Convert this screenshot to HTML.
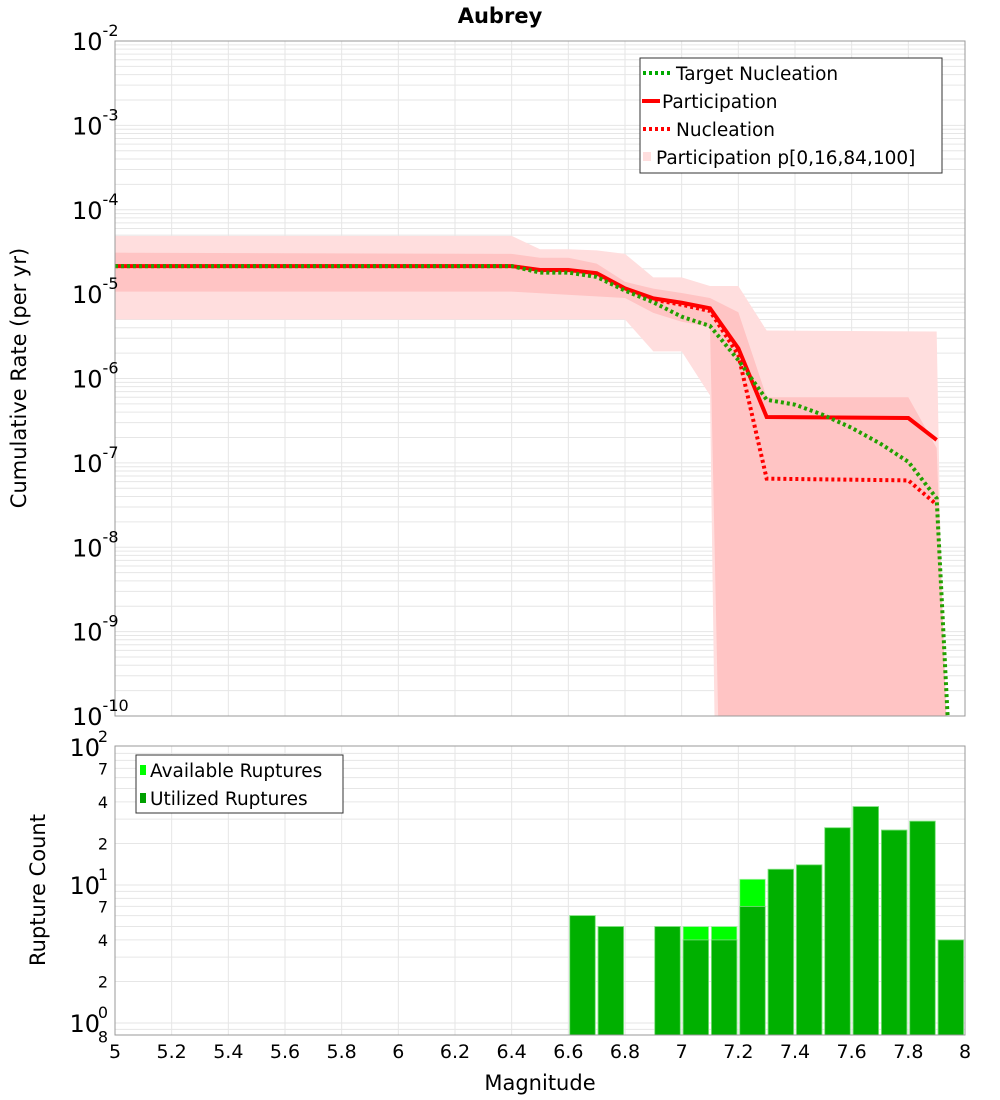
<!DOCTYPE html>
<html><head><meta charset="utf-8"><style>
body{margin:0;background:#fff;width:1000px;height:1100px;overflow:hidden}
svg{font-family:"DejaVu Sans","Liberation Sans",sans-serif;display:block}
</style></head><body>
<svg id="c" width="1000" height="1100" xmlns="http://www.w3.org/2000/svg"></svg>
<script>
// ---- data ----
const partX = [5,6.4,6.5,6.6,6.7,6.8,6.9,7.0,7.1,7.2,7.3,7.8,7.9];
const partY = [2.15e-5,2.15e-5,1.93e-5,1.93e-5,1.77e-5,1.17e-5,8.9e-6,7.9e-6,6.8e-6,2.28e-6,3.5e-7,3.4e-7,1.87e-7];
const nuclX = [5,6.4,6.5,6.6,6.7,6.8,6.9,7.0,7.1,7.2,7.3,7.8,7.9];
const nuclY = [2.15e-5,2.15e-5,1.9e-5,1.9e-5,1.7e-5,1.15e-5,8.6e-6,7.5e-6,6.3e-6,1.9e-6,6.5e-8,6.2e-8,3.2e-8];
const targX = [5,6.4,6.5,6.6,6.7,6.8,6.9,7.0,7.1,7.2,7.3,7.4,7.5,7.6,7.7,7.8,7.9,7.94];
const targY = [2.15e-5,2.15e-5,1.8e-5,1.8e-5,1.6e-5,1.1e-5,8e-6,5.4e-6,4.2e-6,1.65e-6,5.6e-7,4.9e-7,3.7e-7,2.6e-7,1.7e-7,1.03e-7,3.8e-8,8e-11];
const outerUpX = [5,6.4,6.5,6.6,6.7,6.8,6.9,7.0,7.1,7.2,7.3,7.9,7.93];
const outerUpY = [4.9e-5,4.9e-5,3.4e-5,3.4e-5,3.3e-5,3.0e-5,1.58e-5,1.58e-5,1.25e-5,1.25e-5,3.7e-6,3.6e-6,1e-11];
const outerLoX = [5,6.4,6.8,6.9,7.0,7.1,7.12];
const outerLoY = [5e-6,5e-6,5e-6,2.1e-6,2.1e-6,6.3e-7,1e-11];
const innerUpX = [5,6.4,6.5,6.6,6.7,6.8,6.9,7.0,7.1,7.2,7.3,7.8,7.9,7.945];
const innerUpY = [3.1e-5,3.0e-5,2.7e-5,2.7e-5,2.3e-5,1.4e-5,1.16e-5,1.03e-5,9e-6,6.1e-6,6e-7,6e-7,1.5e-7,1e-11];
const innerLoX = [5,6.4,6.8,6.9,7.0,7.1,7.135];
const innerLoY = [1.07e-5,1.07e-5,9e-6,6e-6,4.7e-6,4.1e-6,1e-11];
const binCenters = [6.65,6.75,6.95,7.05,7.15,7.25,7.35,7.45,7.55,7.65,7.75,7.85,7.95];
const availCounts = [6,5,5,5,5,11,13,14,26,37,25,29,4];
const usedCounts  = [6,5,5,4,4,7,13,14,26,37,25,29,4];
const xTicks = [5,5.2,5.4,5.6,5.8,6,6.2,6.4,6.6,6.8,7,7.2,7.4,7.6,7.8,8];
const xTickLabels = ["5","5.2","5.4","5.6","5.8","6","6.2","6.4","6.6","6.8","7","7.2","7.4","7.6","7.8","8"];
const topExps = [-2,-3,-4,-5,-6,-7,-8,-9,-10];
const botMinor = [70,40,20,7,4,2,0.8];
const botMinorLabels = ["7","4","2","7","4","2","8"];

// ---- axes ----
const NS="http://www.w3.org/2000/svg", svg=document.getElementById('c');
const L=115,R=965,T1=41,B1=716,T2=746,B2=1035;
const xs=m=>L+(m-5)/3*(R-L);
const y1=v=>T1+(-2-Math.log10(v))*(B1-T1)/8;
const y2=v=>747+(2-Math.log10(v))*138;
function el(tag,attrs,parent){const e=document.createElementNS(NS,tag);for(const k in attrs)e.setAttribute(k,attrs[k]);(parent||svg).appendChild(e);return e;}
const defs=el('defs',{});
const c1=el('clipPath',{id:'cp1'},defs);el('rect',{x:L,y:T1,width:R-L,height:B1-T1},c1);
const c2=el('clipPath',{id:'cp2'},defs);el('rect',{x:L,y:T2,width:R-L,height:B2-T2},c2);

const g1=el('g',{'clip-path':'url(#cp1)'});

for(let e=-10;e<-2;e++)for(let k=1;k<10;k++){const y=y1(k*Math.pow(10,e));el('line',{x1:L,x2:R,y1:y,y2:y,stroke:'#e6e6e6','stroke-width':1},g1);}
xTicks.forEach(t=>el('line',{x1:xs(t),x2:xs(t),y1:T1,y2:B1,stroke:'#e6e6e6'},g1));
const g2=el('g',{'clip-path':'url(#cp2)'});

for(let e=-1;e<2;e++)for(let k=1;k<10;k++){const y=y2(k*Math.pow(10,e));el('line',{x1:L,x2:R,y1:y,y2:y,stroke:'#e6e6e6'},g2);}
xTicks.forEach(t=>el('line',{x1:xs(t),x2:xs(t),y1:T2,y2:B2,stroke:'#e6e6e6'},g2));

function band(upX,upY,loX,loY,fill,name){
  let pts=upX.map((x,i)=>xs(x)+','+y1(upY[i]));
  for(let i=loX.length-1;i>=0;i--)pts.push(xs(loX[i])+','+y1(loY[i]));
  const p=el('polygon',{points:pts.join(' '),fill:fill,'clip-path':'url(#cp1)'});
  
}
band(outerUpX,outerUpY,outerLoX,outerLoY,'#ffdede','band-p0-p100');
band(innerUpX,innerUpY,innerLoX,innerLoY,'#ffc4c4','band-p16-p84');
function line(X,Y,stroke,dash,name){
  const p=el('polyline',{points:X.map((x,i)=>xs(x)+','+y1(Y[i])).join(' '),fill:'none',stroke:stroke,'stroke-width':4,'clip-path':'url(#cp1)'});
  if(dash)p.setAttribute('stroke-dasharray',dash);
  
}
line(partX,partY,'#ff0000',null,'participation-line');
line(nuclX,nuclY,'#ff0000','3,3','nucleation-line');
line(targX,targY,'#22a000','3,3','target-nucleation-line');

binCenters.forEach((c,i)=>{
  const x0=xs(c-0.045),w=xs(c+0.045)-x0;
  const a=el('rect',{x:x0,y:y2(availCounts[i]),width:w,height:B2-y2(availCounts[i]),fill:'#00ff00',stroke:'#a0f0a0','stroke-width':0.8,'clip-path':'url(#cp2)'});
  
  const u=el('rect',{x:x0,y:y2(usedCounts[i]),width:w,height:B2-y2(usedCounts[i]),fill:'#00b000',stroke:'#80e080','stroke-width':0.8,'clip-path':'url(#cp2)'});
  
});

const f1=el('rect',{x:L,y:T1,width:R-L,height:B1-T1,fill:'none',stroke:'#999'});

const f2=el('rect',{x:L,y:T2,width:R-L,height:B2-T2,fill:'none',stroke:'#999'});


function text(x,y,s,attrs,name){const t=el('text',Object.assign({x:x,y:y},attrs));t.textContent=s;return t;}
topExps.forEach(e=>{
  const y=y1(Math.pow(10,e));
  const t=el('text',{x:72,y:y+9,'font-size':24,fill:'#000'});
  
  const a=el('tspan',{},t);a.textContent='10';
  const b=el('tspan',{dy:-14,'font-size':16},t);b.textContent=String(e);
});
[2,1,0].forEach(e=>{
  const y=y2(Math.pow(10,e));
  const t=el('text',{x:100,y:y+9,'text-anchor':'end','font-size':24});
  
  const a=el('tspan',{},t);a.textContent='10';
  const b=el('tspan',{x:108,dy:-14,'font-size':16},t);b.textContent=String(e);
});
botMinor.forEach((v,i)=>text(108,y2(v)+6,botMinorLabels[i],{'text-anchor':'end','font-size':16},'count-minor-label'));
xTicks.forEach((t,i)=>text(xs(t),1058,xTickLabels[i],{'text-anchor':'middle','font-size':19},'x-tick-label'));
text(500,23,'Aubrey',{'text-anchor':'middle','font-size':21,'font-weight':'bold'},'chart-title');
text(540,1090,'Magnitude',{'text-anchor':'middle','font-size':21},'x-axis-title');
text(0,0,'Cumulative Rate (per yr)',{'text-anchor':'middle','font-size':21,transform:'translate(26,378) rotate(-90)'},'y-axis-title');
text(0,0,'Rupture Count',{'text-anchor':'middle','font-size':21,transform:'translate(45,890) rotate(-90)'},'count-axis-title');

const lg=el('g',{});
el('rect',{x:640,y:58,width:302,height:115,fill:'#fff',stroke:'#333'},lg);
el('line',{x1:643,x2:670,y1:73,y2:73,stroke:'#00aa00','stroke-width':4,'stroke-dasharray':'3,3'},lg);
el('line',{x1:642,x2:660,y1:101,y2:101,stroke:'#ff0000','stroke-width':4},lg);
el('line',{x1:643,x2:670,y1:129,y2:129,stroke:'#ff0000','stroke-width':4,'stroke-dasharray':'3,3'},lg);
el('rect',{x:643,y:152,width:8,height:9,fill:'#ffdede'},lg);
text(676,80,'Target Nucleation',{'font-size':18.5},'legend-target-nucleation');
text(662,108,'Participation',{'font-size':18.5},'legend-participation');
text(676,136,'Nucleation',{'font-size':18.5},'legend-nucleation');
text(656,164,'Participation p[0,16,84,100]',{'font-size':18.5},'legend-participation-band');
const lg2=el('g',{});
el('rect',{x:136,y:755,width:207,height:58,fill:'#fff',stroke:'#333'},lg2);
el('rect',{x:140,y:765,width:6,height:10,fill:'#00ff00'},lg2);
el('rect',{x:140,y:793,width:6,height:10,fill:'#00a000'},lg2);
text(150,777,'Available Ruptures',{'font-size':18.5},'legend-available');
text(150,805,'Utilized Ruptures',{'font-size':18.5},'legend-utilized');
</script>
</body></html>
